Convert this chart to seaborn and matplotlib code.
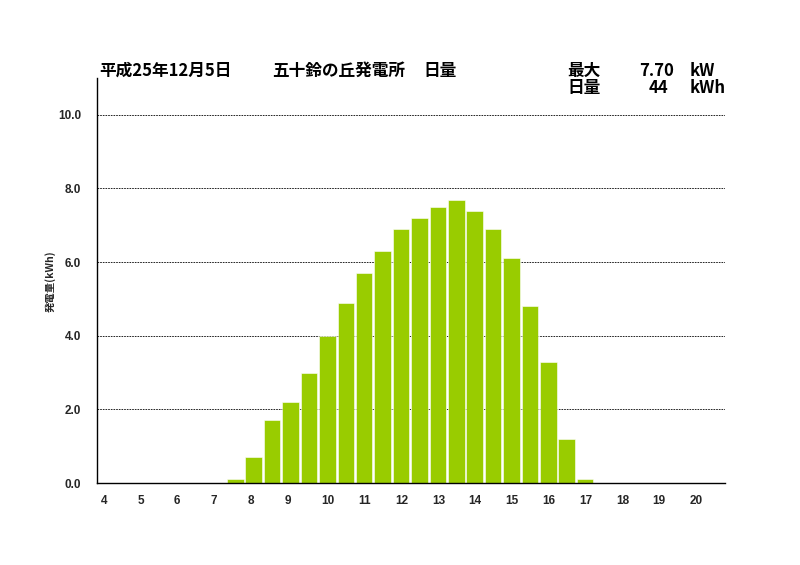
import numpy as np
import pandas as pd
import matplotlib
matplotlib.use("Agg")
import matplotlib.pyplot as plt
import seaborn as sns

# half-hour slots 4:00 .. 20:30 (kW per slot)
SLOT_START = [4.0 + 0.5 * i for i in range(34)]
POWER_KW = [0, 0, 0, 0, 0, 0, 0, 0.1,          # 4:00 - 7:30
            0.7, 1.7, 2.2, 3.0, 4.0, 4.9, 5.7, 6.3,  # 8:00 - 11:30
            6.9, 7.2, 7.5, 7.7, 7.4, 6.9, 6.1, 4.8,  # 12:00 - 15:30
            3.3, 1.2, 0.1, 0, 0, 0, 0, 0, 0, 0]      # 16:00 - 20:30
HOUR_LABELS = [str(h) for h in range(4, 21)]
Y_TICKS = [0, 2, 4, 6, 8, 10]

TITLE_DATE = "平成25年12月5日"
TITLE_SITE = "五十鈴の丘発電所"
TITLE_KIND = "日量"
MAX_KW = "7.70"
DAY_KWH = "44"

BAR_COLOR = "#99CC00"
JP = ["Noto Sans CJK JP", "DejaVu Sans"]

sns.set_style("white")
plt.rcParams["font.family"] = JP

df = pd.DataFrame({"slot": [f"{s:.1f}" for s in SLOT_START], "kw": POWER_KW})

W, H = 800, 565
fig = plt.figure(figsize=(W / 100, H / 100), dpi=100)
ax = fig.add_axes([97.3 / W, 1 - 483 / H, (725 - 97.3) / W, (483 - 78) / H])

sns.barplot(data=df, x="slot", y="kw", color=BAR_COLOR, saturation=1,
            width=0.9, edgecolor="white", linewidth=0.4, ax=ax)

n = len(SLOT_START)
ax.set_xlim(-0.5, n - 0.5 + 0.1)
ax.set_ylim(0, 11)

# hour labels sit just right of the hour boundary
hour_pos = [2 * i - 0.5 + 0.17 for i in range(len(HOUR_LABELS))]
ax.set_xticks(hour_pos)
ax.set_xticklabels(HOUR_LABELS, fontsize=8.5, fontweight="bold",
                   family=["Liberation Sans", "DejaVu Sans"], ha="left")
ax.set_xticks([i + 0.5 for i in range(n)], minor=True)
ax.tick_params(axis="x", which="major", length=0, pad=9)
ax.tick_params(axis="x", which="minor", direction="in", length=3,
               width=0.8, color="black")

ax.set_yticks(Y_TICKS)
ax.set_yticklabels([f"{v:.1f}" for v in Y_TICKS], fontsize=8.5,
                   fontweight="bold", family=["Liberation Sans", "DejaVu Sans"])
ax.tick_params(axis="y", length=1.5, width=0.6, color="black", pad=10)

for v in Y_TICKS[1:]:
    ax.axhline(v, color="black", lw=0.6, ls=(0, (2, 1.2)), zorder=0)

ax.set_xlabel("")
ax.set_ylabel("")
for side in ["top", "right"]:
    ax.spines[side].set_visible(False)
for side in ["left", "bottom"]:
    ax.spines[side].set_color("black")
    ax.spines[side].set_linewidth(1.0)

fig.text(50 / W, 1 - 281 / H, "発電量(kWh)", rotation=90, fontsize=7.5,
         fontweight="bold", ha="center", va="center", family=JP)


def ftxt(x, y, s, ha="left"):
    fig.text(x / W, 1 - y / H, s, fontsize=12, fontweight="bold",
             ha=ha, va="center", family=JP, color="black")


ftxt(99, 71, TITLE_DATE)
ftxt(272, 71, TITLE_SITE)
ftxt(423, 71, TITLE_KIND)
ftxt(567, 71, "最大")
ftxt(674, 71, MAX_KW, ha="right")
ftxt(690, 71, "kW")
ftxt(567, 88, "日量")
ftxt(668, 88, DAY_KWH, ha="right")
ftxt(690, 88, "kWh")

fig.savefig("out.png", dpi=100, facecolor="white")
